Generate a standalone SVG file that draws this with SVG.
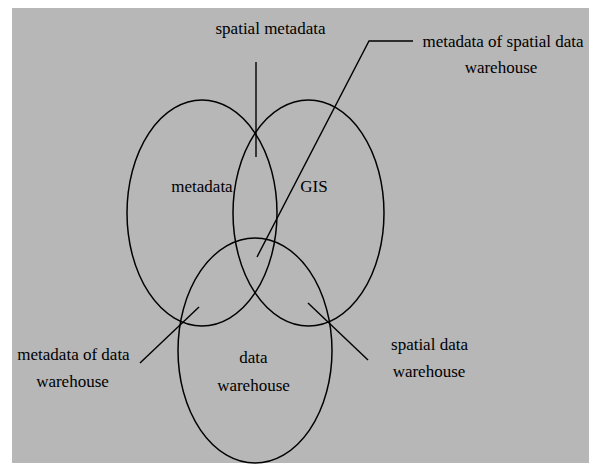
<svg xmlns="http://www.w3.org/2000/svg" width="589" height="464" viewBox="0 0 589 464">
<style>
.set{fill:none;stroke:#000;stroke-width:1.5}
.ln{fill:none;stroke:#000;stroke-width:1.4}
text{font-family:"Liberation Serif","Times New Roman",serif;font-size:17px;fill:#000;text-anchor:middle}
</style>
<rect x="0" y="0" width="589" height="464" fill="#ffffff"/>
<rect x="12" y="8" width="577" height="455" fill="#b7b7b7"/>
<g id="metadata">
<ellipse class="set" cx="202" cy="213" rx="75" ry="113"/>
<text x="202" y="192">metadata</text>
</g>
<g id="gis">
<ellipse class="set" cx="308.5" cy="213" rx="75.5" ry="113"/>
<text x="314" y="192">GIS</text>
</g>
<g id="data-warehouse">
<ellipse class="set" cx="255" cy="350.5" rx="77" ry="112.5"/>
<text x="253.5" y="363">data</text>
<text x="253.5" y="391">warehouse</text>
</g>
<g id="label-spatial-metadata">
<text x="270.5" y="34">spatial metadata</text>
</g>
<g id="label-metadata-sdw">
<text x="503" y="47">metadata of spatial data</text>
<text x="501" y="73">warehouse</text>
</g>
<g id="label-metadata-dw">
<text x="73.5" y="360">metadata of data</text>
<text x="72.5" y="387">warehouse</text>
</g>
<g id="label-spatial-dw">
<text x="429.5" y="350">spatial data</text>
<text x="429" y="377">warehouse</text>
</g>
<g id="connectors">
<line class="ln" x1="256" y1="62" x2="256" y2="157"/>
<polyline class="ln" points="257,257 369,41 413,41"/>
<line class="ln" x1="199" y1="307" x2="140" y2="363"/>
<line class="ln" x1="308" y1="303" x2="368" y2="360"/>
</g>
</svg>
